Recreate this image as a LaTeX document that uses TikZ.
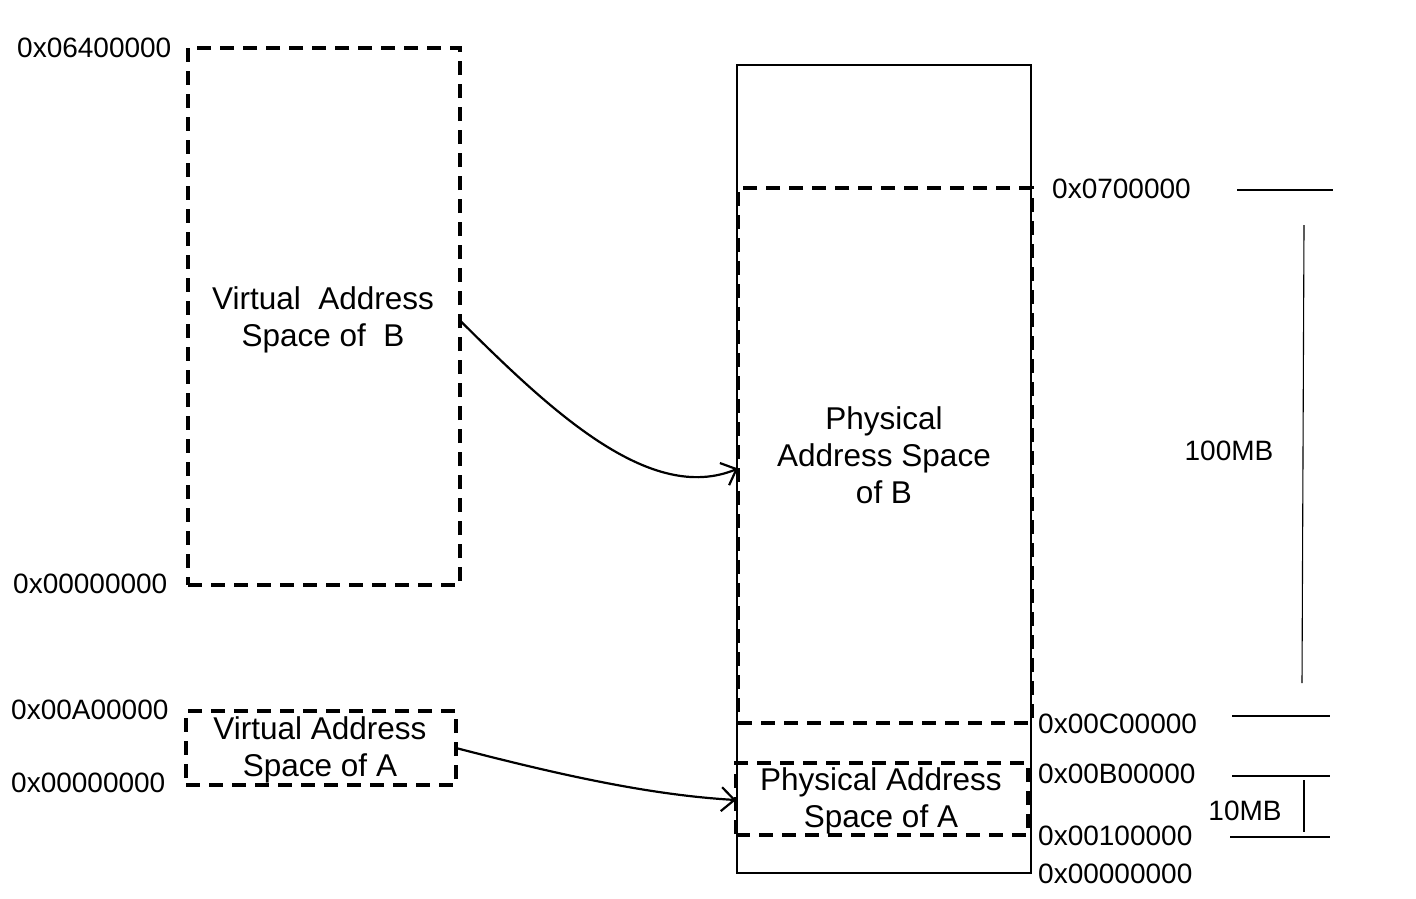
\documentclass[tikz,border=0pt]{standalone}
\usepackage{fontspec}
\setmainfont{Liberation Sans}
\usetikzlibrary{arrows.meta}
\begin{document}
\begin{tikzpicture}[x=1pt,y=-1pt,
  dbox/.style={draw, line width=3.4pt, dash pattern=on 14pt off 9pt, inner sep=0pt, outer sep=0pt},
  hexlbl/.style={font=\fontsize{28}{32}\selectfont, inner sep=0pt, anchor=west},
  boxtext/.style={font=\fontsize{31.5}{37}\selectfont, align=center},
  thinline/.style={line width=1.1pt},
  conn/.style={line width=2.2pt, -{Straight Barb[length=13pt,width=24pt,line width=2.2pt]}}]
\useasboundingbox (0,0) rectangle (1416,898);

% physical outer box
\node[draw, thinline, minimum width=294pt, minimum height=808pt, inner sep=0pt] (phys) at (884,469) {};

% virtual boxes
\node[dbox, minimum width=272pt, minimum height=537pt] (vb) at (324,316.5) {};
\node[boxtext] (vbt) at (323,319.5) {Virtual\ \ Address\\Space of\ \ B};
\node[dbox, minimum width=270pt, minimum height=74pt] (va) at (321,748) {};
\node[boxtext] (vat) at (320,750) {Virtual Address\\Space of A};

% physical boxes
\node[dbox, minimum width=294pt, minimum height=535pt] (pb) at (885,455.5) {};
\node[boxtext] (pbt) at (884,455) {Physical\\Address Space\\of B};
\node[dbox, minimum width=292pt, minimum height=72pt] (pa) at (882,799) {};
\node[boxtext] (pat) at (881,801) {Physical Address\\Space of A};

% left labels
\node[hexlbl] (l1) at (17,48) {0x06400000};
\node[hexlbl] (l2) at (13,584) {0x00000000};
\node[hexlbl] (l3) at (11,710) {0x00A00000};
\node[hexlbl] (l4) at (11,783) {0x00000000};

% right labels
\node[hexlbl] (r1) at (1052,189) {0x0700000};
\node[hexlbl] (r2) at (1038,724) {0x00C00000};
\node[hexlbl] (r3) at (1038,774) {0x00B00000};
\node[hexlbl] (r4) at (1038,836) {0x00100000};
\node[hexlbl] (r5) at (1038,874) {0x00000000};

% sizes
\node[hexlbl, anchor=center] (s100) at (1229,451) {100MB};
\node[hexlbl, anchor=center] (s10) at (1245,811) {10MB};

% dimension lines
\coordinate (t1a) at (1237,190); \coordinate (t1b) at (1333,190);
\coordinate (t2a) at (1232,716); \coordinate (t2b) at (1330,716);
\coordinate (t3a) at (1232,776); \coordinate (t3b) at (1330,776);
\coordinate (t4a) at (1230,837); \coordinate (t4b) at (1330,837);
\coordinate (v1a) at (1304,225); \coordinate (v1b) at (1302,683);
\coordinate (v2a) at (1304,780); \coordinate (v2b) at (1304,832);
\draw[thinline] (t1a) -- (t1b);
\draw[thinline] (t2a) -- (t2b);
\draw[thinline] (t3a) -- (t3b);
\draw[thinline] (t4a) -- (t4b);
\draw[thinline] (v1a) -- (v1b);
\draw[thinline] (v2a) -- (v2b);

% connectors
\coordinate (vbo) at ([yshift=-4pt]vb.east);
\coordinate (pbi) at ([yshift=-13pt]pb.west);
\draw[conn] (vbo) .. controls (550,410) and (650,505) .. (pbi);
\draw[conn] (va.east) .. controls (560,775) and (650,795) .. ([yshift=-1pt]pa.west);
\end{tikzpicture}
\end{document}
